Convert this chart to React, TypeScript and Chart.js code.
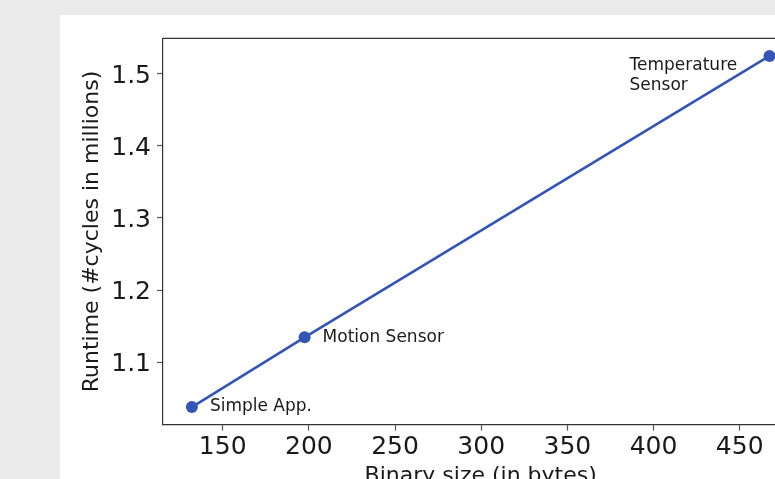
import React, { useEffect, useRef } from "react";
import { Chart, registerables } from "chart.js";

Chart.register(...registerables);

const binarySizes: number[] = [132.1, 197.5, 467.3];
const runtimes: number[] = [1.0375, 1.1343, 1.525];
const pointLabels: string[][] = [["Simple App."], ["Motion Sensor"], ["Temperature", "Sensor"]];
const xTickValues: number[] = [150, 200, 250, 300, 350, 400, 450];
const yTickValues: number[] = [1.1, 1.2, 1.3, 1.4, 1.5];
const xTitle = "Binary size (in bytes)";
const yTitle = "Runtime (#cycles in millions)";

const FONT = "'DejaVu Sans', sans-serif";
const LINE_COLOR = "#3455b8";
const AXIS_COLOR = "#333333";
const TEXT_COLOR = "#1a1a1a";

// label offsets (px) relative to each point: [dx, dy]
const LABEL_OFFSETS: [number, number][] = [[18, 0], [18, 0], [-140, 10]];

function paddedRange(vals: number[], frac: number): [number, number] {
  const lo = Math.min(...vals);
  const hi = Math.max(...vals);
  const m = (hi - lo) * frac;
  return [lo - m, hi + m];
}

export default function App() {
  const ref = useRef<HTMLCanvasElement | null>(null);

  useEffect(() => {
    if (!ref.current) return;
    const [xMin, xMax] = paddedRange(binarySizes, 0.05);
    const [yMin, yMax] = paddedRange(runtimes, 0.05);

    const framePlugin = {
      id: "frameAndLabels",
      afterDraw(chart: any) {
        const { ctx, chartArea, scales } = chart;
        ctx.save();
        ctx.strokeStyle = AXIS_COLOR;
        ctx.lineWidth = 1.2;
        ctx.beginPath();
        ctx.moveTo(chartArea.left, chartArea.top);
        ctx.lineTo(chartArea.right, chartArea.top);
        ctx.stroke();

        ctx.fillStyle = TEXT_COLOR;
        ctx.font = `17px ${FONT}`;
        ctx.textAlign = "left";
        ctx.textBaseline = "middle";
        pointLabels.forEach((lines, i) => {
          const px = scales.x.getPixelForValue(binarySizes[i]);
          const py = scales.y.getPixelForValue(runtimes[i]);
          const [dx, dy] = LABEL_OFFSETS[i];
          lines.forEach((ln, j) => {
            ctx.fillText(ln, px + dx, py + dy + j * 20);
          });
        });

        // axis titles
        ctx.font = `22px ${FONT}`;
        ctx.textAlign = "center";
        ctx.textBaseline = "middle";
        const cx = (chartArea.left + chartArea.right) / 2;
        ctx.fillText(xTitle, cx, chartArea.bottom + 52);
        const cy = (chartArea.top + chartArea.bottom) / 2;
        ctx.translate(32.5, cy);
        ctx.rotate(-Math.PI / 2);
        ctx.fillText(yTitle, 0, 0);
        ctx.restore();
      },
    };

    const chart = new Chart(ref.current, {
      type: "line",
      data: {
        datasets: [
          {
            data: binarySizes.map((x, i) => ({ x, y: runtimes[i] })),
            borderColor: LINE_COLOR,
            borderWidth: 2.6,
            pointRadius: 6,
            pointBorderWidth: 0,
            pointBackgroundColor: LINE_COLOR,
          },
        ],
      },
      options: {
        responsive: false,
        animation: false,
        devicePixelRatio: 1,
        layout: { padding: { top: 23.4, right: 61.6, left: 0, bottom: 0 } },
        plugins: { legend: { display: false }, tooltip: { enabled: false } },
        scales: {
          x: {
            type: "linear",
            min: xMin,
            max: xMax,
            afterFit: (s: any) => {
              s.height = 120.4;
            },
            afterBuildTicks: (s: any) => {
              s.ticks = xTickValues.map((v) => ({ value: v }));
            },
            grid: {
              drawOnChartArea: false,
              tickLength: 6,
              tickColor: "#555555",
              tickWidth: 1.2,
            },
            border: { display: true, color: AXIS_COLOR, width: 1.2 },
            ticks: {
              font: { family: FONT, size: 25 },
              color: TEXT_COLOR,
              padding: 2,
              maxRotation: 0,
              autoSkip: false,
            },
          },
          y: {
            type: "linear",
            min: yMin,
            max: yMax,
            afterFit: (s: any) => {
              s.width = 103;
            },
            afterBuildTicks: (s: any) => {
              s.ticks = yTickValues.map((v) => ({ value: v }));
            },
            grid: {
              drawOnChartArea: false,
              tickLength: 6,
              tickColor: "#555555",
              tickWidth: 1.2,
            },
            border: { display: true, color: AXIS_COLOR, width: 1.2 },
            ticks: {
              font: { family: FONT, size: 25 },
              color: TEXT_COLOR,
              padding: 6,
              labelOffset: 2.5,
              autoSkip: false,
              callback: (v: any) => Number(v).toFixed(1),
            },
          },
        },
      },
      plugins: [framePlugin],
    });
    return () => chart.destroy();
  }, []);

  return (
    <div
      style={{
        position: "fixed",
        left: 0,
        top: 0,
        width: 775,
        height: 479,
        overflow: "hidden",
        background: "#ebebeb",
      }}
    >
      <div
        style={{
          position: "absolute",
          left: 60,
          top: 15,
          width: 800,
          height: 530,
          background: "#ffffff",
        }}
      >
        <canvas ref={ref} width={800} height={530} style={{ width: 800, height: 530, display: "block" }} />
      </div>
    </div>
  );
}
